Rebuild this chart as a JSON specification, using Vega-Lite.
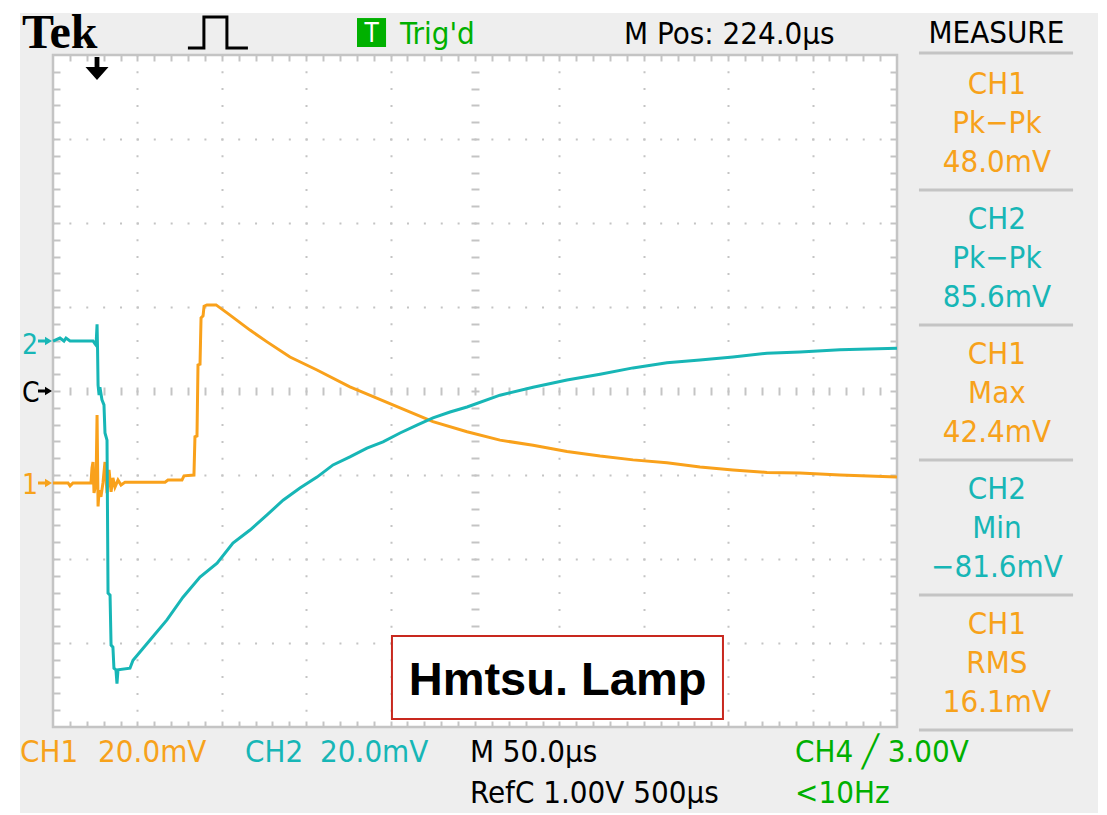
{
  "$schema": "https://vega.github.io/schema/vega-lite/v6.json",
  "width": 844,
  "height": 672,
  "autosize": {"type": "none"},
  "padding": {"left": 53, "top": 55, "right": 210, "bottom": 88},
  "background": "#eeeeee",
  "config": {
    "view": {"fill": "white", "stroke": "#c4c4c4", "strokeWidth": 2.5},
    "axis": {"labels": false, "domain": false, "ticks": false, "grid": false, "tickColor": "#c4c4c4", "tickWidth": 2, "gridColor": "#c4c4c4", "gridWidth": 2},
    "text": {"font": "DejaVu Sans Condensed, sans-serif", "fontSize": 31}
  },
  "resolve": {"scale": {"y": "independent"}, "axis": {"x": "independent", "y": "independent"}},
  "layer": [
    {
      "data": {"values": [{}]},
      "resolve": {"axis": {"x": "independent", "y": "independent"}},
      "layer": [
        {
          "mark": {"type": "point", "opacity": 0},
          "encoding": {
            "x": {"datum": 0, "type": "quantitative", "scale": {"domain": [0, 500], "nice": false, "zero": false},
              "axis": {"orient": "bottom", "values": [50, 100, 150, 200, 300, 350, 400, 450], "grid": true, "gridDash": [2, 14.8], "gridDashOffset": 1, "title": null}},
            "y": {"datum": 0, "type": "quantitative", "scale": {"domain": [-4, 4], "nice": false, "zero": false},
              "axis": {"orient": "left", "values": [-3, -2, -1, 1, 2, 3], "grid": true, "gridDash": [2, 14.88], "gridDashOffset": 1, "title": null}}
          }
        },
        {
          "mark": {"type": "point", "opacity": 0},
          "encoding": {
            "x": {"datum": 0, "type": "quantitative",
              "axis": {"orient": "bottom", "offset": -340, "ticks": true, "tickSize": 8, "title": null,
                "values": [10,20,30,40,50,60,70,80,90,100,110,120,130,140,150,160,170,180,190,200,210,220,230,240,250,260,270,280,290,300,310,320,330,340,350,360,370,380,390,400,410,420,430,440,450,460,470,480,490]}},
            "y": {"datum": 0, "type": "quantitative",
              "axis": {"orient": "left", "offset": -426, "ticks": true, "tickSize": 8, "title": null,
                "values": [-3.8,-3.6,-3.4,-3.2,-3,-2.8,-2.6,-2.4,-2.2,-2,-1.8,-1.6,-1.4,-1.2,-1,-0.8,-0.6,-0.4,-0.2,0,0.2,0.4,0.6,0.8,1,1.2,1.4,1.6,1.8,2,2.2,2.4,2.6,2.8,3,3.2,3.4,3.6,3.8]}}
          }
        },
        {
          "mark": {"type": "point", "opacity": 0},
          "encoding": {
            "x": {"datum": 0, "type": "quantitative",
              "axis": {"orient": "top", "ticks": true, "tickSize": -6, "title": null,
                "values": [10,20,30,40,50,60,70,80,90,100,110,120,130,140,150,160,170,180,190,200,210,220,230,240,250,260,270,280,290,300,310,320,330,340,350,360,370,380,390,400,410,420,430,440,450,460,470,480,490]}},
            "y": {"datum": 0, "type": "quantitative",
              "axis": {"orient": "left", "ticks": true, "tickSize": -7, "title": null,
                "values": [-3.8,-3.6,-3.4,-3.2,-3,-2.8,-2.6,-2.4,-2.2,-2,-1.8,-1.6,-1.4,-1.2,-1,-0.8,-0.6,-0.4,-0.2,0,0.2,0.4,0.6,0.8,1,1.2,1.4,1.6,1.8,2,2.2,2.4,2.6,2.8,3,3.2,3.4,3.6,3.8]}}
          }
        },
        {
          "mark": {"type": "point", "opacity": 0},
          "encoding": {
            "x": {"datum": 0, "type": "quantitative",
              "axis": {"orient": "bottom", "ticks": true, "tickSize": -6, "title": null,
                "values": [10,20,30,40,50,60,70,80,90,100,110,120,130,140,150,160,170,180,190,200,210,220,230,240,250,260,270,280,290,300,310,320,330,340,350,360,370,380,390,400,410,420,430,440,450,460,470,480,490]}},
            "y": {"datum": 0, "type": "quantitative",
              "axis": {"orient": "right", "ticks": true, "tickSize": -7, "title": null,
                "values": [-3.8,-3.6,-3.4,-3.2,-3,-2.8,-2.6,-2.4,-2.2,-2,-1.8,-1.6,-1.4,-1.2,-1,-0.8,-0.6,-0.4,-0.2,0,0.2,0.4,0.6,0.8,1,1.2,1.4,1.6,1.8,2,2.2,2.4,2.6,2.8,3,3.2,3.4,3.6,3.8]}}
          }
        },
        {"mark": {"type": "rect", "color": "white"}, "encoding": {"x": {"datum": -40, "axis": null}, "x2": {"datum": -19.55}, "y": {"datum": 6, "axis": null}, "y2": {"datum": -6}}},
        {"mark": {"type": "rect", "color": "white"}, "encoding": {"x": {"datum": -40, "axis": null}, "x2": {"datum": 700}, "y": {"datum": 6, "axis": null}, "y2": {"datum": 4.5}}},
        {"mark": {"type": "rect", "color": "white"}, "encoding": {"x": {"datum": 619.1, "axis": null}, "x2": {"datum": 700}, "y": {"datum": 6, "axis": null}, "y2": {"datum": -6}}},
        {"mark": {"type": "rect", "color": "white"}, "encoding": {"x": {"datum": -40, "axis": null}, "x2": {"datum": 700}, "y": {"datum": -5.024, "axis": null}, "y2": {"datum": -6}}},

        {"mark": {"type": "rule", "color": "#c4c4c4", "strokeWidth": 3}, "encoding": {"x": {"datum": 513.0, "axis": null}, "x2": {"datum": 604.3}, "y": {"datum": 4.024, "axis": null}}},
        {"mark": {"type": "rule", "color": "#c4c4c4", "strokeWidth": 3}, "encoding": {"x": {"datum": 513.0, "axis": null}, "x2": {"datum": 604.3}, "y": {"datum": 2.393, "axis": null}}},
        {"mark": {"type": "rule", "color": "#c4c4c4", "strokeWidth": 3}, "encoding": {"x": {"datum": 513.0, "axis": null}, "x2": {"datum": 604.3}, "y": {"datum": 0.786, "axis": null}}},
        {"mark": {"type": "rule", "color": "#c4c4c4", "strokeWidth": 3}, "encoding": {"x": {"datum": 513.0, "axis": null}, "x2": {"datum": 604.3}, "y": {"datum": -0.821, "axis": null}}},
        {"mark": {"type": "rule", "color": "#c4c4c4", "strokeWidth": 3}, "encoding": {"x": {"datum": 513.0, "axis": null}, "x2": {"datum": 604.3}, "y": {"datum": -2.429, "axis": null}}},
        {"mark": {"type": "rule", "color": "#c4c4c4", "strokeWidth": 3}, "encoding": {"x": {"datum": 513.0, "axis": null}, "x2": {"datum": 604.3}, "y": {"datum": -4.036, "axis": null}}},

        {"mark": {"type": "text", "text": "Tek", "font": "Liberation Serif", "fontWeight": "bold", "fontSize": 48, "align": "left", "baseline": "alphabetic", "color": "black"},
         "encoding": {"x": {"datum": -18.4, "axis": null}, "y": {"datum": 4.083, "axis": null}}},
        {"mark": {"type": "point", "shape": "M-1,0.517L-0.467,0.517L-0.467,-0.517L0.3,-0.517L0.3,0.517L1,0.517", "size": 3600, "filled": false, "stroke": "black", "strokeWidth": 3, "opacity": 1},
         "encoding": {"x": {"datum": 97.7, "axis": null}, "y": {"datum": 4.268, "axis": null}}},
        {"mark": {"type": "rect", "color": "#00b000"}, "encoding": {"x": {"datum": 180.1, "axis": null}, "x2": {"datum": 197.3}, "y": {"datum": 4.44, "axis": null}, "y2": {"datum": 4.095}}},
        {"mark": {"type": "text", "text": "T", "fontSize": 26, "align": "center", "baseline": "alphabetic", "color": "white"},
         "encoding": {"x": {"datum": 188.7, "axis": null}, "y": {"datum": 4.155, "axis": null}}},
        {"mark": {"type": "text", "text": "Trig'd", "align": "left", "baseline": "alphabetic", "color": "#00b000"},
         "encoding": {"x": {"datum": 205.6, "axis": null}, "y": {"datum": 4.131, "axis": null}}},
        {"mark": {"type": "text", "text": "M Pos: 224.0µs", "align": "left", "baseline": "alphabetic", "color": "black"},
         "encoding": {"x": {"datum": 338.3, "axis": null}, "y": {"datum": 4.131, "axis": null}}},
        {"mark": {"type": "text", "text": "MEASURE", "align": "center", "baseline": "alphabetic", "color": "black"},
         "encoding": {"x": {"datum": 558.9, "axis": null}, "y": {"datum": 4.143, "axis": null}}},

        {"mark": {"type": "text", "text": ["CH1", "Pk−Pk", "48.0mV"], "lineHeight": 39, "align": "center", "baseline": "alphabetic", "color": "#f7a21b"},
         "encoding": {"x": {"datum": 559.2, "axis": null}, "y": {"datum": 3.536, "axis": null}}},
        {"mark": {"type": "text", "text": ["CH2", "Pk−Pk", "85.6mV"], "lineHeight": 39, "align": "center", "baseline": "alphabetic", "color": "#17b6b6"},
         "encoding": {"x": {"datum": 559.2, "axis": null}, "y": {"datum": 1.929, "axis": null}}},
        {"mark": {"type": "text", "text": ["CH1", "Max", "42.4mV"], "lineHeight": 39, "align": "center", "baseline": "alphabetic", "color": "#f7a21b"},
         "encoding": {"x": {"datum": 559.2, "axis": null}, "y": {"datum": 0.321, "axis": null}}},
        {"mark": {"type": "text", "text": ["CH2", "Min", "−81.6mV"], "lineHeight": 39, "align": "center", "baseline": "alphabetic", "color": "#17b6b6"},
         "encoding": {"x": {"datum": 559.2, "axis": null}, "y": {"datum": -1.286, "axis": null}}},
        {"mark": {"type": "text", "text": ["CH1", "RMS", "16.1mV"], "lineHeight": 39, "align": "center", "baseline": "alphabetic", "color": "#f7a21b"},
         "encoding": {"x": {"datum": 559.2, "axis": null}, "y": {"datum": -2.893, "axis": null}}},

        {"mark": {"type": "text", "text": "CH1", "align": "left", "baseline": "alphabetic", "color": "#f7a21b"},
         "encoding": {"x": {"datum": -19.5, "axis": null}, "y": {"datum": -4.417, "axis": null}}},
        {"mark": {"type": "text", "text": "20.0mV", "align": "left", "baseline": "alphabetic", "color": "#f7a21b"},
         "encoding": {"x": {"datum": 26.7, "axis": null}, "y": {"datum": -4.417, "axis": null}}},
        {"mark": {"type": "text", "text": "CH2", "align": "left", "baseline": "alphabetic", "color": "#17b6b6"},
         "encoding": {"x": {"datum": 113.7, "axis": null}, "y": {"datum": -4.417, "axis": null}}},
        {"mark": {"type": "text", "text": "20.0mV", "align": "left", "baseline": "alphabetic", "color": "#17b6b6"},
         "encoding": {"x": {"datum": 158.2, "axis": null}, "y": {"datum": -4.417, "axis": null}}},
        {"mark": {"type": "text", "text": ["M 50.0µs", "RefC 1.00V 500µs"], "lineHeight": 41, "align": "left", "baseline": "alphabetic", "color": "black"},
         "encoding": {"x": {"datum": 247.0, "axis": null}, "y": {"datum": -4.417, "axis": null}}},
        {"mark": {"type": "text", "text": ["CH4 ╱ 3.00V", "<10Hz"], "lineHeight": 41, "align": "left", "baseline": "alphabetic", "color": "#00b000"},
         "encoding": {"x": {"datum": 439.6, "axis": null}, "y": {"datum": -4.417, "axis": null}}},

        {"mark": {"type": "text", "text": "2", "fontSize": 28, "align": "left", "baseline": "alphabetic", "color": "#17b6b6"},
         "encoding": {"x": {"datum": -18.4, "axis": null}, "y": {"datum": 0.44, "axis": null}}},
        {"mark": {"type": "point", "shape": "M-1,-0.2L0,-0.2L0,-0.6L1,0L0,0.6L0,0.2L-1,0.2Z", "size": 196, "filled": true, "color": "#17b6b6", "opacity": 1},
         "encoding": {"x": {"datum": -4.74, "axis": null}, "y": {"datum": 0.595, "axis": null}}},
        {"mark": {"type": "text", "text": "C", "fontSize": 28, "align": "left", "baseline": "alphabetic", "color": "black"},
         "encoding": {"x": {"datum": -18.4, "axis": null}, "y": {"datum": -0.13, "axis": null}}},
        {"mark": {"type": "point", "shape": "M-1,-0.2L0,-0.2L0,-0.6L1,0L0,0.6L0,0.2L-1,0.2Z", "size": 196, "filled": true, "color": "black", "opacity": 1},
         "encoding": {"x": {"datum": -4.74, "axis": null}, "y": {"datum": 0, "axis": null}}},
        {"mark": {"type": "text", "text": "1", "fontSize": 28, "align": "left", "baseline": "alphabetic", "color": "#f7a21b"},
         "encoding": {"x": {"datum": -18.4, "axis": null}, "y": {"datum": -1.225, "axis": null}}},
        {"mark": {"type": "point", "shape": "M-1,-0.2L0,-0.2L0,-0.6L1,0L0,0.6L0,0.2L-1,0.2Z", "size": 196, "filled": true, "color": "#f7a21b", "opacity": 1},
         "encoding": {"x": {"datum": -4.74, "axis": null}, "y": {"datum": -1.095, "axis": null}}},
        {"mark": {"type": "point", "shape": "M-0.2,-0.96L0.2,-0.96L0.2,-0.12L0.96,-0.12L0,0.96L-0.96,-0.12L-0.2,-0.12Z", "size": 576, "filled": true, "color": "black", "opacity": 1},
         "encoding": {"x": {"datum": 26.07, "axis": null}, "y": {"datum": 3.839, "axis": null}}},

        {"mark": {"type": "rect", "fill": "white", "stroke": "#c8281e", "strokeWidth": 2},
         "encoding": {"x": {"datum": 200.8, "axis": null}, "x2": {"datum": 396.9}, "y": {"datum": -2.917, "axis": null}, "y2": {"datum": -3.905}}},
        {"mark": {"type": "text", "text": "Hmtsu. Lamp", "font": "Liberation Sans", "fontWeight": "bold", "fontSize": 47, "align": "center", "baseline": "alphabetic", "color": "black"},
         "encoding": {"x": {"datum": 298.9, "axis": null}, "y": {"datum": -3.619, "axis": null}}}
      ]
    },
    {
      "data": {"values": [
        {"t": 0, "mV": 0}, {"t": 8.9, "mV": 0}, {"t": 10.1, "mV": -0.7}, {"t": 11.8, "mV": 0}, {"t": 22.5, "mV": 0},
        {"t": 23.1, "mV": 3.6}, {"t": 23.7, "mV": 5.0}, {"t": 24.3, "mV": -2.4}, {"t": 25.5, "mV": 0}, {"t": 26.1, "mV": 16.2},
        {"t": 26.7, "mV": -5.6}, {"t": 27.3, "mV": -1.7}, {"t": 28.4, "mV": -3.3}, {"t": 29.6, "mV": 0}, {"t": 30.8, "mV": 5.0},
        {"t": 32.0, "mV": -2.4}, {"t": 33.2, "mV": 3.1}, {"t": 34.4, "mV": -2.1}, {"t": 35.5, "mV": 1.2}, {"t": 36.7, "mV": -1.0},
        {"t": 38.5, "mV": 0.7}, {"t": 40.3, "mV": -0.5}, {"t": 42.7, "mV": 0.2}, {"t": 66.4, "mV": 0.2}, {"t": 68.1, "mV": 0.7},
        {"t": 76.4, "mV": 0.7}, {"t": 77.6, "mV": 1.7}, {"t": 83.5, "mV": 1.9}, {"t": 84.1, "mV": 11.0}, {"t": 85.3, "mV": 11.2},
        {"t": 85.9, "mV": 28.1}, {"t": 87.1, "mV": 28.3}, {"t": 87.7, "mV": 39.3}, {"t": 88.9, "mV": 39.8}, {"t": 89.5, "mV": 42.1},
        {"t": 91.2, "mV": 42.4}, {"t": 96.6, "mV": 42.4}, {"t": 103.1, "mV": 40.5}, {"t": 116.7, "mV": 36.4}, {"t": 126.8, "mV": 33.6},
        {"t": 140.4, "mV": 30.0}, {"t": 156.4, "mV": 26.9}, {"t": 175.9, "mV": 22.9}, {"t": 205.6, "mV": 17.9}, {"t": 225.1, "mV": 14.6},
        {"t": 245.3, "mV": 12.2}, {"t": 264.8, "mV": 10.2}, {"t": 284.4, "mV": 9.0}, {"t": 304.5, "mV": 7.5}, {"t": 324.1, "mV": 6.4},
        {"t": 343.6, "mV": 5.5}, {"t": 363.7, "mV": 4.8}, {"t": 383.3, "mV": 3.8}, {"t": 402.8, "mV": 3.1}, {"t": 423.0, "mV": 2.5},
        {"t": 442.5, "mV": 2.4}, {"t": 466.2, "mV": 1.9}, {"t": 500, "mV": 1.4}
      ]},
      "mark": {"type": "line", "color": "#f9a11b", "strokeWidth": 3},
      "encoding": {
        "x": {"field": "t", "type": "quantitative", "scale": {"domain": [0, 500], "nice": false, "zero": false}, "axis": null},
        "y": {"field": "mV", "type": "quantitative", "scale": {"domain": [-58.1, 101.9], "nice": false, "zero": false}, "axis": null}
      }
    },
    {
      "data": {"values": [
        {"t": 0, "mV": 0}, {"t": 4.1, "mV": 0.7}, {"t": 6.5, "mV": 0}, {"t": 7.7, "mV": 0.7}, {"t": 10.1, "mV": 0},
        {"t": 23.7, "mV": 0}, {"t": 24.9, "mV": -0.7}, {"t": 25.5, "mV": -1.0}, {"t": 26.1, "mV": 4.0}, {"t": 26.4, "mV": -2.1},
        {"t": 26.7, "mV": -10.5}, {"t": 27.3, "mV": -12.9}, {"t": 27.8, "mV": -11.0}, {"t": 29.0, "mV": -14.0}, {"t": 30.2, "mV": -15.2},
        {"t": 30.8, "mV": -21.9}, {"t": 32.0, "mV": -23.6}, {"t": 32.6, "mV": -60.0}, {"t": 33.8, "mV": -60.5}, {"t": 34.4, "mV": -72.4},
        {"t": 35.5, "mV": -72.9}, {"t": 36.1, "mV": -77.9}, {"t": 37.3, "mV": -78.3}, {"t": 37.9, "mV": -81.6}, {"t": 38.5, "mV": -78.3},
        {"t": 45.6, "mV": -77.9}, {"t": 47.4, "mV": -76.0}, {"t": 57.5, "mV": -71.2}, {"t": 67.5, "mV": -66.4}, {"t": 77.0, "mV": -61.0},
        {"t": 87.1, "mV": -56.2}, {"t": 97.2, "mV": -52.9}, {"t": 106.6, "mV": -48.1}, {"t": 116.7, "mV": -45.0}, {"t": 126.8, "mV": -41.4},
        {"t": 136.3, "mV": -37.9}, {"t": 146.3, "mV": -35.0}, {"t": 156.4, "mV": -32.4}, {"t": 165.9, "mV": -29.5}, {"t": 175.9, "mV": -27.6},
        {"t": 186.0, "mV": -25.5}, {"t": 195.5, "mV": -24.0}, {"t": 205.6, "mV": -21.9}, {"t": 215.6, "mV": -20.0}, {"t": 225.1, "mV": -18.3},
        {"t": 235.2, "mV": -16.9}, {"t": 245.3, "mV": -15.7}, {"t": 264.8, "mV": -12.9}, {"t": 284.4, "mV": -11.0}, {"t": 304.5, "mV": -9.3},
        {"t": 324.1, "mV": -7.9}, {"t": 343.6, "mV": -6.4}, {"t": 363.7, "mV": -5.2}, {"t": 383.3, "mV": -4.5}, {"t": 402.8, "mV": -3.8},
        {"t": 423.0, "mV": -2.9}, {"t": 442.5, "mV": -2.6}, {"t": 466.2, "mV": -2.1}, {"t": 500, "mV": -1.7}
      ]},
      "mark": {"type": "line", "color": "#17b6b6", "strokeWidth": 3},
      "encoding": {
        "x": {"field": "t", "type": "quantitative", "scale": {"domain": [0, 500], "nice": false, "zero": false}, "axis": null},
        "y": {"field": "mV", "type": "quantitative", "scale": {"domain": [-91.9, 68.1], "nice": false, "zero": false}, "axis": null}
      }
    }
  ]
}
